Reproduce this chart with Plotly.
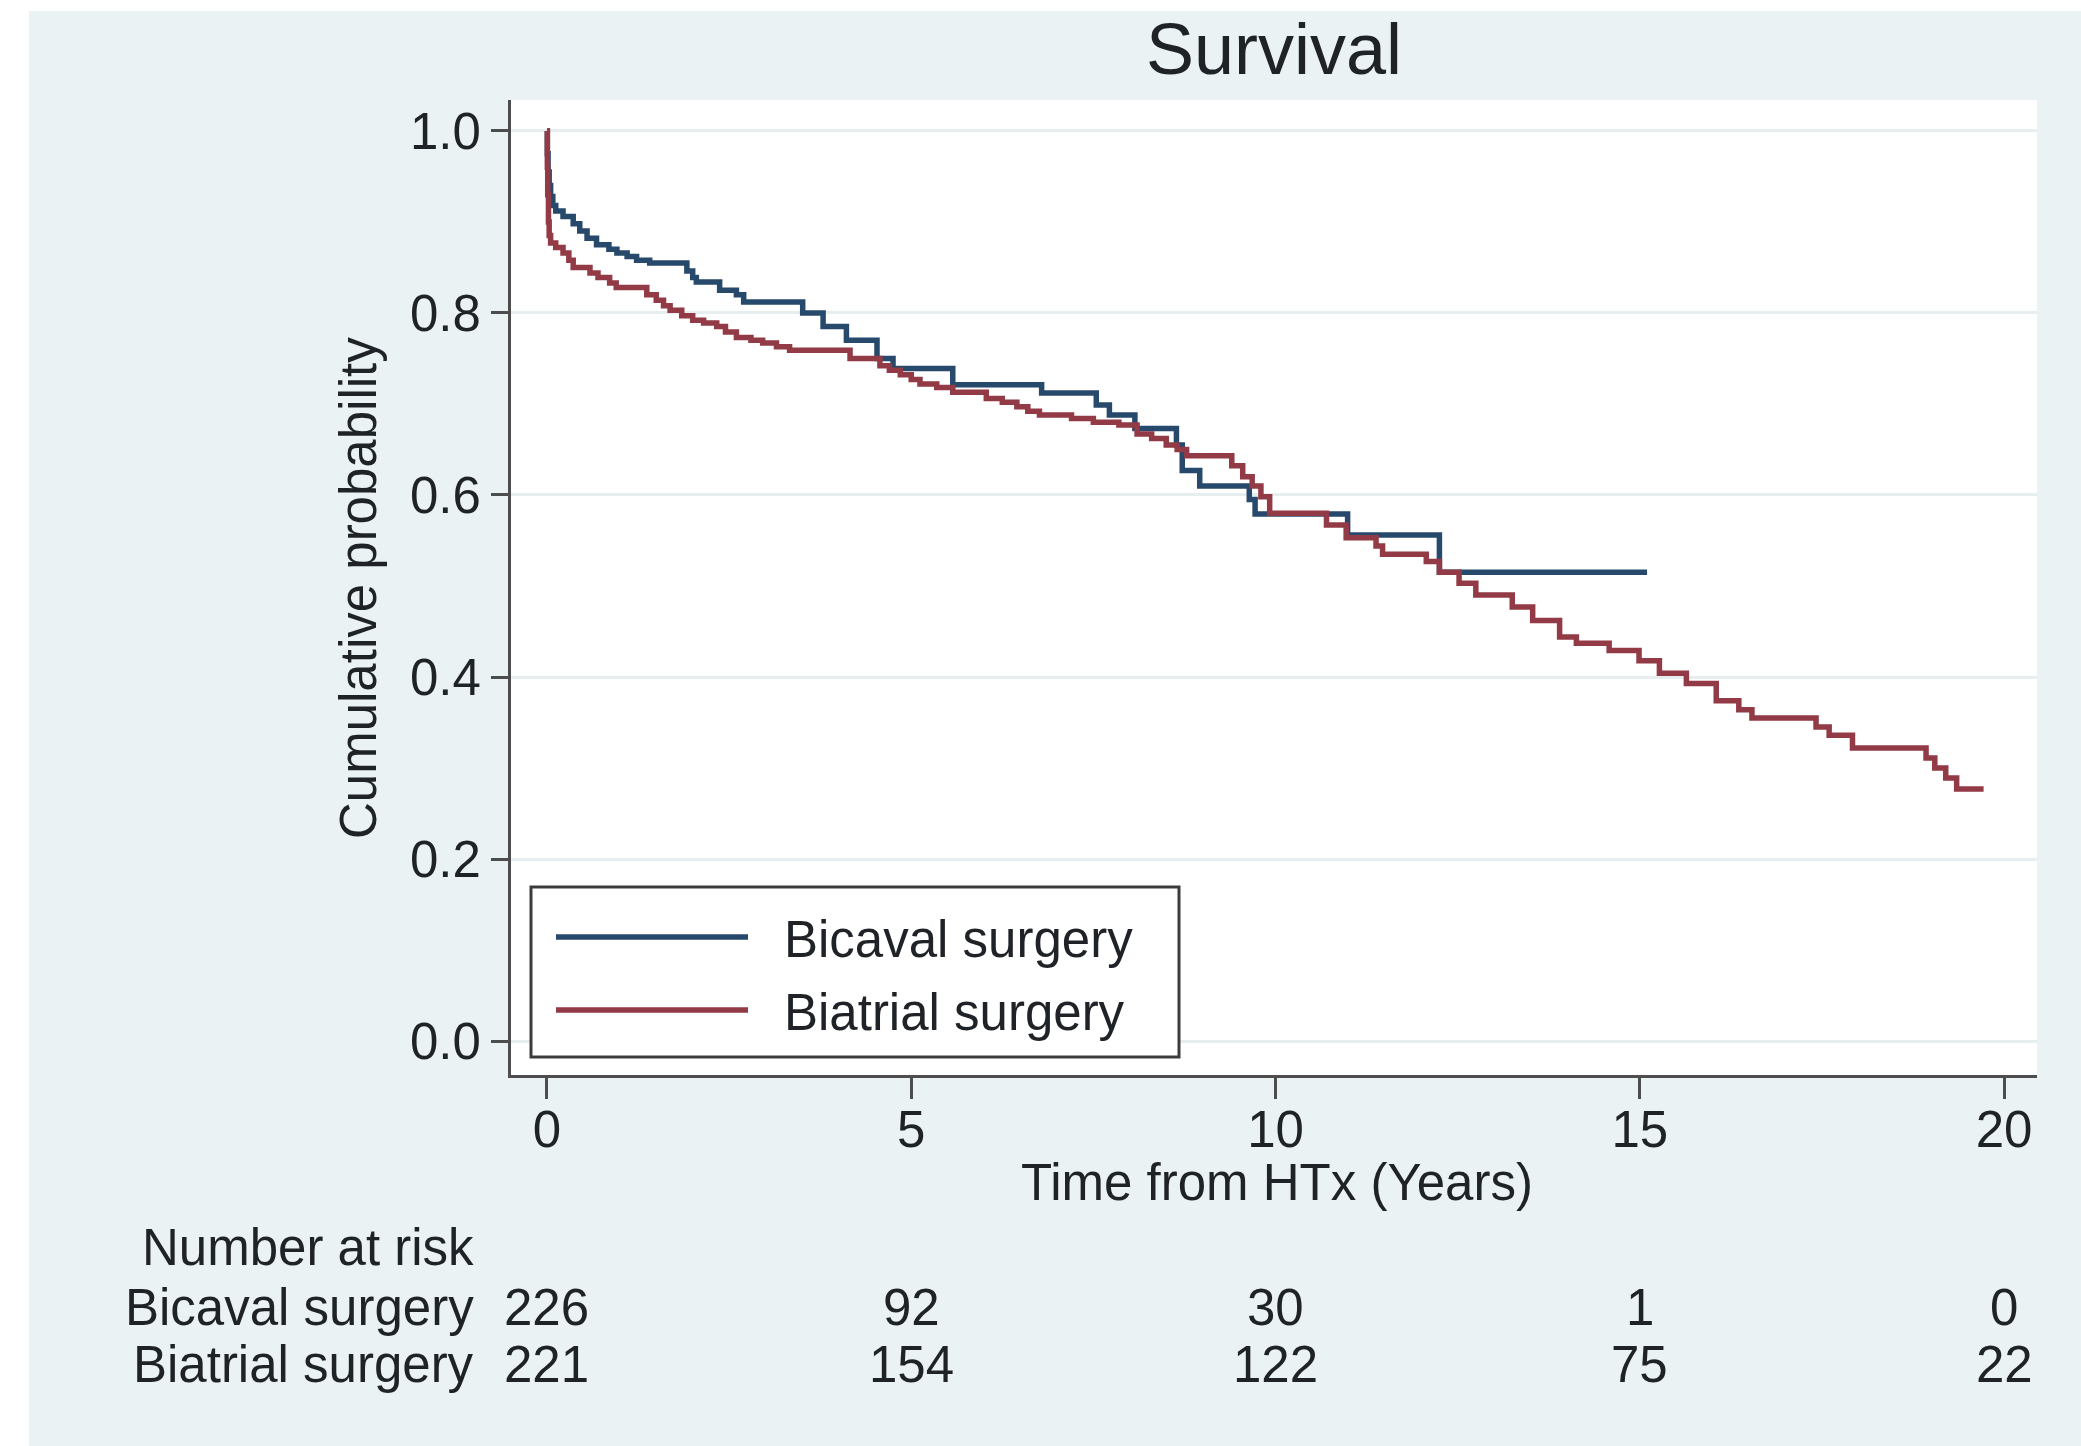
import plotly.graph_objects as go

# Kaplan-Meier step estimates: time since heart transplant (years) and survival
bicaval_t = [0, 0.005, 0.015, 0.03, 0.05, 0.08, 0.12, 0.22, 0.36, 0.45, 0.55, 0.68,
             0.85, 0.96, 1.10, 1.23, 1.41, 1.92, 2.00, 2.05, 2.37, 2.60, 2.70, 3.51,
             3.79, 4.11, 4.53, 4.75, 5.57, 6.79, 7.54, 7.72, 8.07, 8.64, 8.72, 8.96,
             9.64, 9.72, 10.99, 12.25, 15.10]
bicaval_s = [1.0, 0.975, 0.955, 0.94, 0.928, 0.918, 0.912, 0.906, 0.898, 0.89, 0.882, 0.875,
             0.870, 0.866, 0.862, 0.858, 0.855, 0.846, 0.839, 0.834, 0.825, 0.820, 0.812, 0.800,
             0.785, 0.770, 0.750, 0.739, 0.721, 0.712, 0.699, 0.688, 0.673, 0.655, 0.627, 0.610,
             0.595, 0.579, 0.556, 0.515, 0.515]

biatrial_t = [0, 0.005, 0.01, 0.02, 0.03, 0.05, 0.12, 0.22, 0.30, 0.36, 0.59, 0.70,
              0.86, 0.95, 1.37, 1.50, 1.60, 1.69, 1.85, 2.00, 2.15, 2.33, 2.45, 2.60,
              2.80, 2.96, 3.15, 3.33, 4.16, 4.57, 4.70, 4.85, 5.00, 5.12, 5.35, 5.57,
              6.03, 6.25, 6.45, 6.60, 6.76, 7.20, 7.50, 7.85, 8.10, 8.30, 8.50, 8.65,
              8.78, 9.40, 9.55, 9.68, 9.80, 9.92, 10.70, 10.97, 11.38, 11.47, 12.07, 12.25,
              12.52, 12.75, 13.25, 13.53, 13.90, 14.13, 14.58, 14.99, 15.27, 15.64, 16.05, 16.36,
              16.54, 17.42, 17.60, 17.92, 18.93, 19.05, 19.20, 19.35, 19.72]
biatrial_s = [1.0, 0.96, 0.93, 0.90, 0.885, 0.877, 0.872, 0.866, 0.858, 0.850, 0.844, 0.839,
              0.833, 0.828, 0.820, 0.814, 0.808, 0.803, 0.797, 0.792, 0.789, 0.785, 0.779, 0.773,
              0.770, 0.767, 0.763, 0.759, 0.750, 0.742, 0.737, 0.732, 0.727, 0.722, 0.718, 0.713,
              0.706, 0.702, 0.697, 0.692, 0.688, 0.684, 0.680, 0.677, 0.667, 0.662, 0.655, 0.650,
              0.643, 0.632, 0.620, 0.610, 0.598, 0.580, 0.567, 0.553, 0.544, 0.535, 0.527, 0.515,
              0.503, 0.490, 0.477, 0.462, 0.444, 0.437, 0.429, 0.418, 0.404, 0.393, 0.374, 0.364,
              0.355, 0.345, 0.336, 0.322, 0.311, 0.300, 0.289, 0.277, 0.277]

series_names = ["Bicaval surgery", "Biatrial surgery"]
series_colors = ["#27496b", "#923a45"]

# Number-at-risk table
risk_times = [0, 5, 10, 15, 20]
bicaval_risk = [226, 92, 30, 1, 0]
biatrial_risk = [221, 154, 122, 75, 22]

x_ticks = [0, 5, 10, 15, 20]
y_ticks = [0.0, 0.2, 0.4, 0.6, 0.8, 1.0]
y_tick_text = ["0.0", "0.2", "0.4", "0.6", "0.8", "1.0"]

W, H = 2081, 1446
L, R, T, B = 511, 44, 100, 371
PW, PH = W - L - R, H - T - B
FONT = "Liberation Sans, Arial, Helvetica, sans-serif"
TXT = "#1f2226"
AXC = "#4d4d4d"
LW = 5.5


def px_x(X):
    return (X - L) / PW


def px_y(Y):
    return (H - B - Y) / PH


fig = go.Figure()
for t, s, name, col in [(bicaval_t, bicaval_s, series_names[0], series_colors[0]),
                        (biatrial_t, biatrial_s, series_names[1], series_colors[1])]:
    fig.add_trace(go.Scatter(x=t, y=s, mode="lines", name=name,
                             line=dict(color=col, width=LW, shape="hv"),
                             showlegend=False))

ann = []
shapes = []

# title and axis titles
ann.append(dict(text="Survival", x=px_x(1274), y=px_y(49), xref="paper", yref="paper",
                showarrow=False, xanchor="center", yanchor="middle",
                font=dict(size=72, color=TXT, family=FONT)))
ann.append(dict(text="Time from HTx (Years)", x=px_x(1277), y=px_y(1182), xref="paper",
                yref="paper", showarrow=False, xanchor="center", yanchor="middle",
                font=dict(size=51, color=TXT, family=FONT)))
ann.append(dict(text="Cumulative probability", x=px_x(358), y=px_y(588), xref="paper",
                yref="paper", showarrow=False, xanchor="center", yanchor="middle",
                textangle=-90, font=dict(size=51, color=TXT, family=FONT)))

# number at risk table
ann.append(dict(text="Number at risk", x=px_x(476), y=px_y(1247), xref="paper", yref="paper",
                showarrow=False, xanchor="right", yanchor="middle",
                font=dict(size=51, color=TXT, family=FONT)))
for name, counts, Y in [(series_names[0], bicaval_risk, 1307),
                        (series_names[1], biatrial_risk, 1364)]:
    ann.append(dict(text=name, x=px_x(476), y=px_y(Y), xref="paper", yref="paper",
                    showarrow=False, xanchor="right", yanchor="middle",
                    font=dict(size=51, color=TXT, family=FONT)))
    for tt, n in zip(risk_times, counts):
        ann.append(dict(text=str(n), x=tt, y=px_y(Y), xref="x", yref="paper",
                        showarrow=False, xanchor="center", yanchor="middle",
                        font=dict(size=51, color=TXT, family=FONT)))

# legend box
shapes.append(dict(type="rect", xref="paper", yref="paper",
                   x0=px_x(531), x1=px_x(1179), y0=px_y(1057), y1=px_y(887),
                   fillcolor="white", line=dict(color="#3c3c3c", width=3), layer="above"))
for name, col, Y in [(series_names[0], series_colors[0], 937),
                     (series_names[1], series_colors[1], 1010)]:
    shapes.append(dict(type="line", xref="paper", yref="paper",
                       x0=px_x(556), x1=px_x(748), y0=px_y(Y), y1=px_y(Y),
                       line=dict(color=col, width=LW), layer="above"))
    ann.append(dict(text=name, x=px_x(782), y=px_y(Y + 2), xref="paper", yref="paper",
                    showarrow=False, xanchor="left", yanchor="middle",
                    font=dict(size=51, color=TXT, family=FONT)))

# white border strips around the graph region
shapes.append(dict(type="rect", xref="paper", yref="paper",
                   x0=px_x(0), x1=px_x(29), y0=px_y(H), y1=px_y(0),
                   fillcolor="white", line=dict(width=0), layer="below"))
shapes.append(dict(type="rect", xref="paper", yref="paper",
                   x0=px_x(0), x1=px_x(W), y0=px_y(11), y1=px_y(0),
                   fillcolor="white", line=dict(width=0), layer="below"))

fig.update_layout(
    width=W, height=H, autosize=False,
    margin=dict(l=L, r=R, t=T, b=B, pad=0),
    paper_bgcolor="#eaf2f3", plot_bgcolor="white",
    font=dict(family=FONT, color=TXT),
    annotations=ann, shapes=shapes,
    xaxis=dict(range=[-0.494, 20.453], tickvals=x_ticks, ticktext=[str(v) for v in x_ticks],
               ticks="outside", ticklen=21, tickwidth=3, tickcolor=AXC,
               showline=True, linewidth=3, linecolor=AXC, showgrid=False, zeroline=False,
               tickfont=dict(size=51, color=TXT, family=FONT), ticklabelstandoff=-13),
    yaxis=dict(range=[-0.0373, 1.034], tickvals=y_ticks, ticktext=y_tick_text,
               ticks="outside", ticklen=17, tickwidth=3, tickcolor=AXC,
               showline=True, linewidth=3, linecolor=AXC, showgrid=True,
               gridcolor="#e6eeef", gridwidth=3, zeroline=False,
               tickfont=dict(size=51, color=TXT, family=FONT), ticklabelstandoff=0),
)

fig.write_html("out.html")
